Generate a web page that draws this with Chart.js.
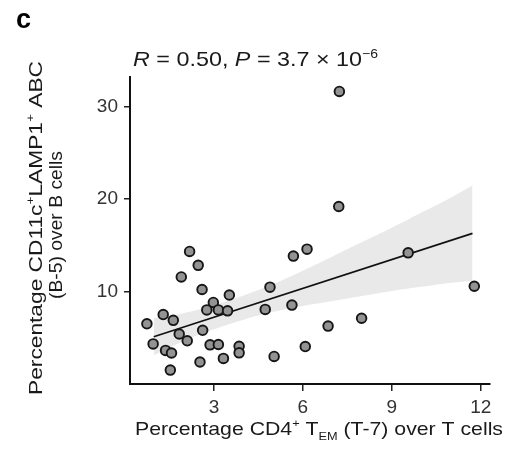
<!DOCTYPE html>
<html><head><meta charset="utf-8">
<script src="https://cdn.jsdelivr.net/npm/chart.js@4/dist/chart.umd.min.js"></script>
<style>html,body{margin:0;padding:0;background:#fff}#wrap{width:507px;height:460px}</style>
</head><body><div id="wrap"><canvas id="c" width="507" height="460"></canvas></div>
<script>
const xValues = [7.23, 7.21, 9.55, 11.78, 6.14, 5.68, 2.18, 2.47, 1.90, 2.60, 4.89, 3.52, 2.98, 2.76, 3.15, 3.46, 4.73, 5.63, 1.29, 1.63, 0.74, 7.98, 6.85, 2.62, 1.83, 2.10, 0.95, 2.87, 3.15, 3.85, 3.85, 6.08, 1.37, 1.57, 3.32, 5.03, 2.53, 1.53];
const yValues = [31.6, 19.2, 14.2, 10.6, 14.6, 13.85, 14.35, 12.85, 11.6, 10.25, 10.5, 9.65, 8.85, 8.05, 8.05, 7.95, 8.1, 8.57, 7.55, 6.92, 6.55, 7.15, 6.3, 5.85, 5.45, 4.72, 4.38, 4.28, 4.32, 4.12, 3.42, 4.1, 3.68, 3.4, 2.82, 3.03, 2.43, 1.56];
const fitX = [0.97, 11.72];
const fitY = [5.15, 16.3];
const bandX = [0.97, 2, 3, 4, 5, 6, 7, 8, 9, 10, 11, 11.72];
const bandUpper = [7.15, 7.72, 8.56, 9.6, 10.84, 12.28, 13.82, 15.36, 16.9, 18.54, 20.18, 21.45];
const bandLower = [3.15, 4.72, 5.96, 7.0, 7.84, 8.48, 9.02, 9.56, 10.1, 10.54, 10.98, 11.2];
const xTicks = [3, 6, 9, 12];
const yTicks = [10, 20, 30];
const panelLabel = 'c';
const statParts = [{t:'R', i:true}, {t:' = 0.50, '}, {t:'P', i:true}, {t:' = 3.7 \u00d7 10'}, {t:'\u22126', sup:true}];
const xTitleParts = [{t:'Percentage CD4'}, {t:'+', sup:true}, {t:' T'}, {t:'EM', sub:true}, {t:' (T-7) over T cells'}];
const yTitle1Parts = [{t:'Percentage CD11c'}, {t:'+', sup:true}, {t:'LAMP1'}, {t:'+', sup:true}, {t:' ABC'}];
const yTitle2Parts = [{t:'(B-5) over B cells'}];

const FAM = "'Liberation Sans', Arial, Helvetica, sans-serif";

function partFont(p, size) {
  const s = (p.sup || p.sub) ? size * 0.6 : size;
  return (p.i ? 'italic ' : '') + (p.b ? 'bold ' : '') + s.toFixed(1) + 'px ' + FAM;
}
function measureParts(ctx, parts, size) {
  let w = 0;
  parts.forEach(p => { ctx.font = partFont(p, size); w += ctx.measureText(p.t).width; });
  return w;
}
function drawParts(ctx, parts, size, x, y, rot, targetW, color) {
  ctx.save();
  ctx.translate(x, y);
  if (rot) ctx.rotate(rot);
  const nat = measureParts(ctx, parts, size);
  if (targetW) ctx.scale(targetW / nat, 1);
  ctx.fillStyle = color;
  ctx.textBaseline = 'alphabetic';
  ctx.textAlign = 'left';
  let cx = 0;
  parts.forEach(p => {
    ctx.font = partFont(p, size);
    let dy = 0;
    if (p.sup) dy = -size * 0.4;
    if (p.sub) dy = size * 0.28;
    ctx.fillText(p.t, cx, dy);
    cx += ctx.measureText(p.t).width;
  });
  ctx.restore();
}

const textPlugin = {
  id: 'richText',
  afterDraw(chart) {
    const ctx = chart.ctx;
    ctx.save();
    ctx.font = 'bold 27px ' + FAM;
    ctx.fillStyle = '#000';
    ctx.textBaseline = 'alphabetic';
    ctx.fillText(panelLabel, 16, 28);
    ctx.restore();
    drawParts(ctx, statParts, 21, 133, 66, 0, 245, '#1a1a1a');
    drawParts(ctx, xTitleParts, 19, 135, 435, 0, 368, '#1a1a1a');
    drawParts(ctx, yTitle1Parts, 19, 42, 395, -Math.PI / 2, 334, '#1a1a1a');
    drawParts(ctx, yTitle2Parts, 19, 62, 299, -Math.PI / 2, 148, '#1a1a1a');
  }
};

const pts = xValues.map((x, i) => ({x: x, y: yValues[i]}));
const fitPts = fitX.map((x, i) => ({x: x, y: fitY[i]}));
const upPts = bandX.map((x, i) => ({x: x, y: bandUpper[i]}));
const loPts = bandX.map((x, i) => ({x: x, y: bandLower[i]}));

new Chart(document.getElementById('c'), {
  type: 'scatter',
  data: {
    datasets: [
      {type: 'line', data: upPts, fill: '+1', backgroundColor: 'rgb(233,233,233)', borderWidth: 0, pointRadius: 0, tension: 0.4, order: 4},
      {type: 'line', data: loPts, fill: false, borderWidth: 0, pointRadius: 0, tension: 0.4, order: 3},
      {type: 'line', data: fitPts, fill: false, borderColor: '#111', borderWidth: 1.6, pointRadius: 0, order: 2},
      {type: 'scatter', data: pts, backgroundColor: '#939393', borderColor: '#161616', borderWidth: 1.9, pointRadius: 4.8, order: 1}
    ]
  },
  options: {
    responsive: false,
    animation: false,
    devicePixelRatio: 1,
    layout: {padding: {left: 0, right: 17, top: 77, bottom: 0}},
    plugins: {legend: {display: false}, tooltip: {enabled: false}, title: {display: false}},
    scales: {
      x: {
        type: 'linear', min: 0.17, max: 12.31,
        afterBuildTicks: s => { s.ticks = xTicks.map(v => ({value: v})); },
        afterFit: s => { s.height = 76; },
        ticks: {font: {family: FAM, size: 19}, color: '#333', padding: 5, maxRotation: 0, autoSkip: false},
        grid: {drawOnChartArea: false, drawTicks: true, tickLength: 7, color: '#222', lineWidth: 1.5},
        border: {display: true, color: '#111', width: 2}
      },
      y: {
        type: 'linear', min: 0.06, max: 33.16,
        afterBuildTicks: s => { s.ticks = yTicks.map(v => ({value: v})); },
        afterFit: s => { s.width = 130; },
        ticks: {font: {family: FAM, size: 19}, color: '#333', padding: 6, autoSkip: false},
        grid: {drawOnChartArea: false, drawTicks: true, tickLength: 6, color: '#222', lineWidth: 1.5},
        border: {display: true, color: '#111', width: 2}
      }
    }
  },
  plugins: [textPlugin]
});
</script></body></html>
